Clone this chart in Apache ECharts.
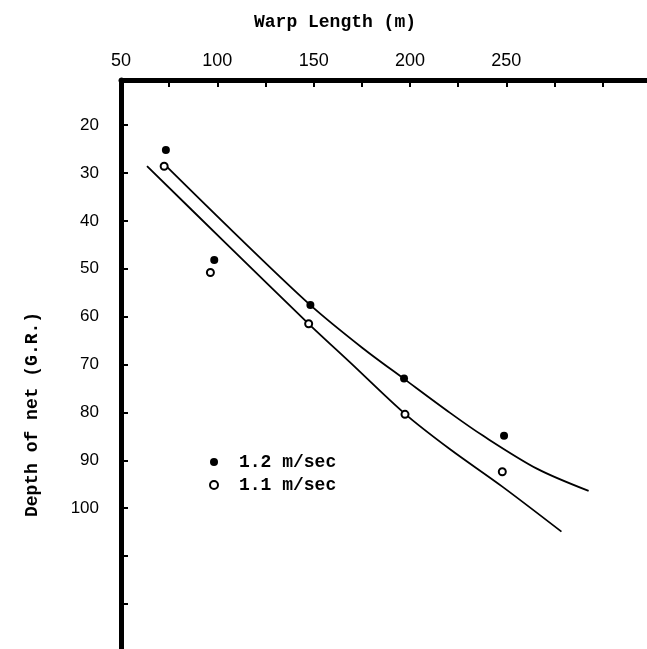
<!DOCTYPE html>
<html>
<head>
<meta charset="utf-8">
<script src="https://cdn.jsdelivr.net/npm/echarts@6/dist/echarts.min.js"></script>
<style>
html,body{margin:0;padding:0;background:#fff;}
#chart{width:647px;height:649px;}
</style>
</head>
<body>
<div id="chart"></div>
<script>
// Data
const xTickValues = [75, 100, 125, 150, 175, 200, 225, 250, 275, 300];
const xLabelValues = [50, 100, 150, 200, 250];
const yTickValues = [20, 30, 40, 50, 60, 70, 80, 90, 100, 110, 120];
const yLabelValues = [20, 30, 40, 50, 60, 70, 80, 90, 100];

const speed12Name = '1.2 m/sec';
const speed11Name = '1.1 m/sec';

const speed12Points = [[73.3, 25.2], [98.4, 48.2], [148.3, 57.6], [196.9, 72.9], [248.8, 84.9]];
const speed11Points = [[72.4, 28.6], [96.4, 50.8], [147.4, 61.5], [197.4, 80.4], [247.9, 92.4]];

const speed12Curve = [[74, 28.8], [108, 42.2], [148.3, 57.6], [175.5, 66.6], [196.9, 73.0], [220.8, 80.1], [238, 84.9], [266.1, 91.8], [292.7, 96.4]];
const speed11Curve = [[63.5, 28.6], [105, 44.9], [147.4, 61.5], [168.75, 69.5], [197.4, 80.3], [220.8, 87.7], [247.9, 95.5], [278.6, 104.9]];

const chart = echarts.init(document.getElementById('chart'));
const black = '#000';
chart.setOption({
  animation: false,
  backgroundColor: '#fff',
  grid: { left: 121, top: 80, right: 0, bottom: 0, containLabel: false },
  legend: {
    orient: 'vertical',
    left: 204,
    top: 448,
    itemWidth: 8,
    itemHeight: 8,
    itemGap: 5,
    data: [speed12Name, speed11Name],
    textStyle: { fontFamily: 'Liberation Mono', fontWeight: 'bold', fontSize: 18, color: black, padding: [0, 0, 0, 16] }
  },
  xAxis: {
    type: 'value',
    position: 'top',
    min: 50,
    max: 323,
    name: 'Warp Length (m)',
    nameLocation: 'middle',
    nameGap: 49,
    nameTextStyle: { fontFamily: 'Liberation Mono', fontWeight: 'bold', fontSize: 18, color: black, padding: [0, 98, 0, 0] },
    axisLine: { show: true, lineStyle: { color: black, width: 5 } },
    axisTick: { show: true, inside: true, length: 7, customValues: xTickValues, lineStyle: { color: black, width: 2 } },
    axisLabel: { show: true, customValues: xLabelValues, margin: 10, fontFamily: 'Liberation Sans', fontSize: 18, color: black },
    splitLine: { show: false }
  },
  yAxis: {
    type: 'value',
    inverse: true,
    min: 10.6,
    max: 129.4,
    name: 'Depth of net (G.R.)',
    nameLocation: 'middle',
    nameRotate: 90,
    nameGap: 80,
    nameTextStyle: { fontFamily: 'Liberation Mono', fontWeight: 'bold', fontSize: 18, color: black, padding: [0, 100, 0, 0] },
    axisLine: { show: true, lineStyle: { color: black, width: 5 } },
    axisTick: { show: true, inside: true, length: 7, customValues: yTickValues, lineStyle: { color: black, width: 2 } },
    axisLabel: { show: true, customValues: yLabelValues, margin: 22, fontFamily: 'Liberation Sans', fontSize: 17, color: black },
    splitLine: { show: false }
  },
  series: [
    {
      name: speed12Name,
      type: 'scatter',
      data: speed12Points,
      symbol: 'circle',
      symbolSize: 8,
      itemStyle: { color: black, opacity: 1 },
      z: 5
    },
    {
      name: speed11Name,
      type: 'scatter',
      data: speed11Points,
      symbol: 'emptyCircle',
      symbolSize: 7,
      itemStyle: { color: black, borderColor: black, borderWidth: 1.6, opacity: 1 },
      z: 5
    },
    {
      name: 'fit12',
      type: 'line',
      data: speed12Curve,
      smooth: 0.3,
      showSymbol: false,
      symbol: 'none',
      lineStyle: { color: black, width: 1.8 },
      z: 3
    },
    {
      name: 'fit11',
      type: 'line',
      data: speed11Curve,
      smooth: 0.3,
      showSymbol: false,
      symbol: 'none',
      lineStyle: { color: black, width: 1.8 },
      z: 3
    }
  ]
});
</script>
</body>
</html>
